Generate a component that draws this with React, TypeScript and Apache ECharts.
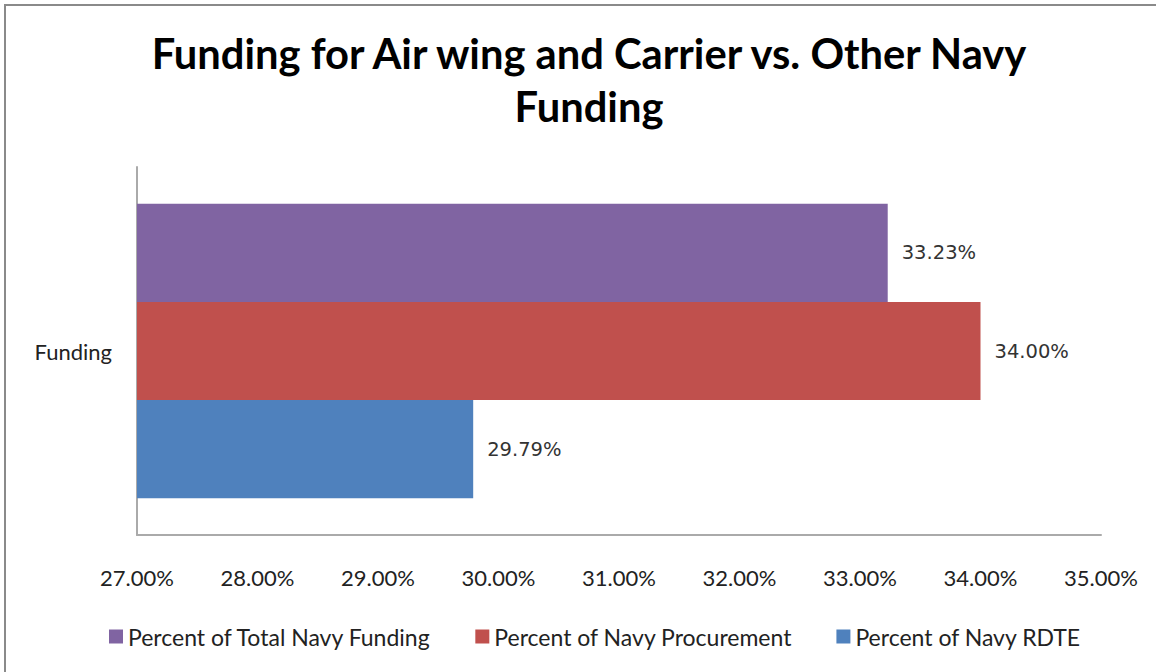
import React, { useEffect, useRef } from "react";
import * as echarts from "echarts";

const categories = ["Funding"];
const seriesNames = [
  "Percent of Total Navy Funding",
  "Percent of Navy Procurement",
  "Percent of Navy RDTE",
];
const totalNavy = [33.23];
const procurement = [34.0];
const rdte = [29.79];
const xTicks = { min: 27, max: 35, interval: 1 };

export default function App() {
  const ref = useRef<HTMLDivElement>(null);
  useEffect(() => {
    if (!ref.current) return;
    const chart = echarts.init(ref.current, null, { renderer: "svg" });
    const font = "Lato";
    const label = {
      show: true,
      position: "right",
      distance: 14,
      color: "#333",
      fontSize: 19.5,
      fontFamily: "DejaVu Sans",
      formatter: (p: any) => p.value.toFixed(2) + "%",
    };
    chart.setOption({
      animation: false,
      backgroundColor: "#fff",
      title: {
        text: "Funding for Air wing and Carrier vs. Other Navy\nFunding",
        left: 584,
        top: 21,
        textAlign: "center",
        textStyle: {
          fontFamily: font,
          fontWeight: "bold",
          fontSize: 41.7,
          lineHeight: 53,
          color: "#000",
          align: "center",
        },
      },
      graphic: [
        {
          type: "rect",
          shape: { x: 5, y: 5, width: 1300, height: 800 },
          style: { fill: "none", stroke: "#8a8a8a", lineWidth: 2 },
          silent: true,
        },
      ],
      legend: {
        data: seriesNames,
        bottom: 19,
        left: 104,
        itemWidth: 14,
        itemHeight: 14,
        itemGap: 44,
        icon: "rect",
        textStyle: { fontFamily: font, fontSize: 23, color: "#222" },
      },
      grid: { left: 137, right: 55, top: 167, bottom: 137 },
      xAxis: {
        type: "value",
        min: xTicks.min,
        max: xTicks.max,
        interval: xTicks.interval,
        axisLine: { show: true, lineStyle: { color: "#aaa", width: 2 } },
        axisTick: { show: false },
        splitLine: { show: false },
        axisLabel: {
          margin: 31,
          fontFamily: font,
          fontSize: 22,
          color: "#222",
          formatter: (v: number) => v.toFixed(2) + "%",
        },
      },
      yAxis: {
        type: "category",
        data: categories,
        axisLine: { show: true, lineStyle: { color: "#aaa", width: 2 } },
        axisTick: { show: false },
        axisLabel: { margin: 25, fontFamily: font, fontSize: 22, color: "#222" },
      },
      series: [
        {
          name: seriesNames[0],
          type: "bar",
          data: totalNavy,
          itemStyle: { color: "#8064a2" },
          barGap: "0%",
          barCategoryGap: "20%",
          label,
        },
        {
          name: seriesNames[1],
          type: "bar",
          data: procurement,
          itemStyle: { color: "#c0504d" },
          barGap: "0%",
          barCategoryGap: "20%",
          label,
        },
        {
          name: seriesNames[2],
          type: "bar",
          data: rdte,
          itemStyle: { color: "#4f81bd" },
          barGap: "0%",
          barCategoryGap: "20%",
          label,
        },
      ],
    });
    return () => chart.dispose();
  }, []);
  return (
    <div
      ref={ref}
      style={{ position: "fixed", left: 0, top: 0, width: 1156, height: 672 }}
    />
  );
}
